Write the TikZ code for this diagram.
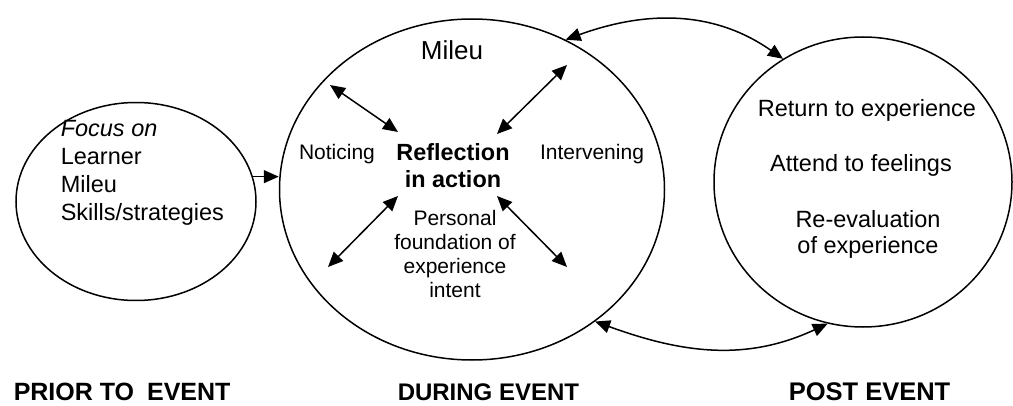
\documentclass[tikz,border=0pt]{standalone}
\usepackage{fontspec}
\setmainfont{Liberation Sans}
\usetikzlibrary{positioning, arrows.meta, shapes.geometric}

\begin{document}
\begin{tikzpicture}[x=1pt, y=1pt, >={Triangle[length=15pt, width=13pt]}, line width=1.5pt]
\useasboundingbox (0,0) rectangle (1013,405);

% the three stages
\node (prior) [draw, ellipse, minimum width=240pt, minimum height=198pt, inner sep=0pt] at (136,203.5) {};
\node (during) [draw, ellipse, minimum width=385pt, minimum height=341pt, inner sep=0pt] at (472,215.5) {};
\node (post) [draw, ellipse, minimum width=298pt, minimum height=290pt, inner sep=0pt] at (863,223) {};

% texts in the stages
\node (focus) [anchor=north west, align=left, inner sep=0pt, font=\fontsize{23.5}{28}\selectfont] at (60,285) {\textit{Focus on}\\Learner\\Mileu\\Skills/strategies};
\node (mileu) [anchor=base, inner sep=0pt, font=\fontsize{26}{30}\selectfont] at (452,345) {Mileu};
\node (noticing) [anchor=base, inner sep=0pt, font=\fontsize{21}{24}\selectfont] at (337,245) {Noticing};
\node (intervening) [anchor=base, inner sep=0pt, font=\fontsize{21}{24}\selectfont] at (592,245) {Intervening};
\node (reflection) [anchor=north, align=center, inner sep=0pt, font=\bfseries\fontsize{23.4}{27}\selectfont] at (453,262) {Reflection\\in action};
\node (personal) [anchor=north, align=center, inner sep=0pt, font=\fontsize{21}{24}\selectfont] at (455,195.3) {Personal\\foundation of\\experience\\intent};
\node (return) [anchor=base, inner sep=0pt, font=\fontsize{23.5}{28}\selectfont] at (867,288) {Return to experience};
\node (attend) [anchor=base, inner sep=0pt, font=\fontsize{23.5}{28}\selectfont] at (861,233) {Attend to feelings};
\node (reeval) [anchor=north, align=center, inner sep=0pt, font=\fontsize{23.5}{26}\selectfont] at (868,195) {Re-evaluation\\of experience};

% stage labels
\node (label_prior) [anchor=base west, inner sep=0pt, font=\bfseries\fontsize{25}{28}\selectfont] at (13,5) {PRIOR TO\hspace{13pt}EVENT};
\node (label_during) [anchor=base west, inner sep=0pt, font=\bfseries\fontsize{24}{28}\selectfont] at (397,5) {DURING EVENT};
\node (label_post) [anchor=base west, inner sep=0pt, font=\bfseries\fontsize{25.5}{28}\selectfont] at (788,5) {POST EVENT};

% ends of the inner arrows
\coordinate (nw_out) at (330,320);
\coordinate (nw_in) at (398,273);
\coordinate (ne_out) at (567,340);
\coordinate (ne_in) at (497,271);
\coordinate (sw_in) at (398,209);
\coordinate (sw_out) at (328,138);
\coordinate (se_in) at (497,209);
\coordinate (se_out) at (567,138);

\draw[->] (prior.12) -- (prior.12 -| during.west);
\draw[<->] (nw_out) -- (nw_in);
\draw[<->] (ne_out) -- (ne_in);
\draw[<->] (sw_in) -- (sw_out);
\draw[<->] (se_in) -- (se_out);
\draw[<->] (during.58) to[out=20, in=145] (post.123);
\draw[<->] (during.-47) to[out=-20, in=205] (post.256);

\end{tikzpicture}
\end{document}
